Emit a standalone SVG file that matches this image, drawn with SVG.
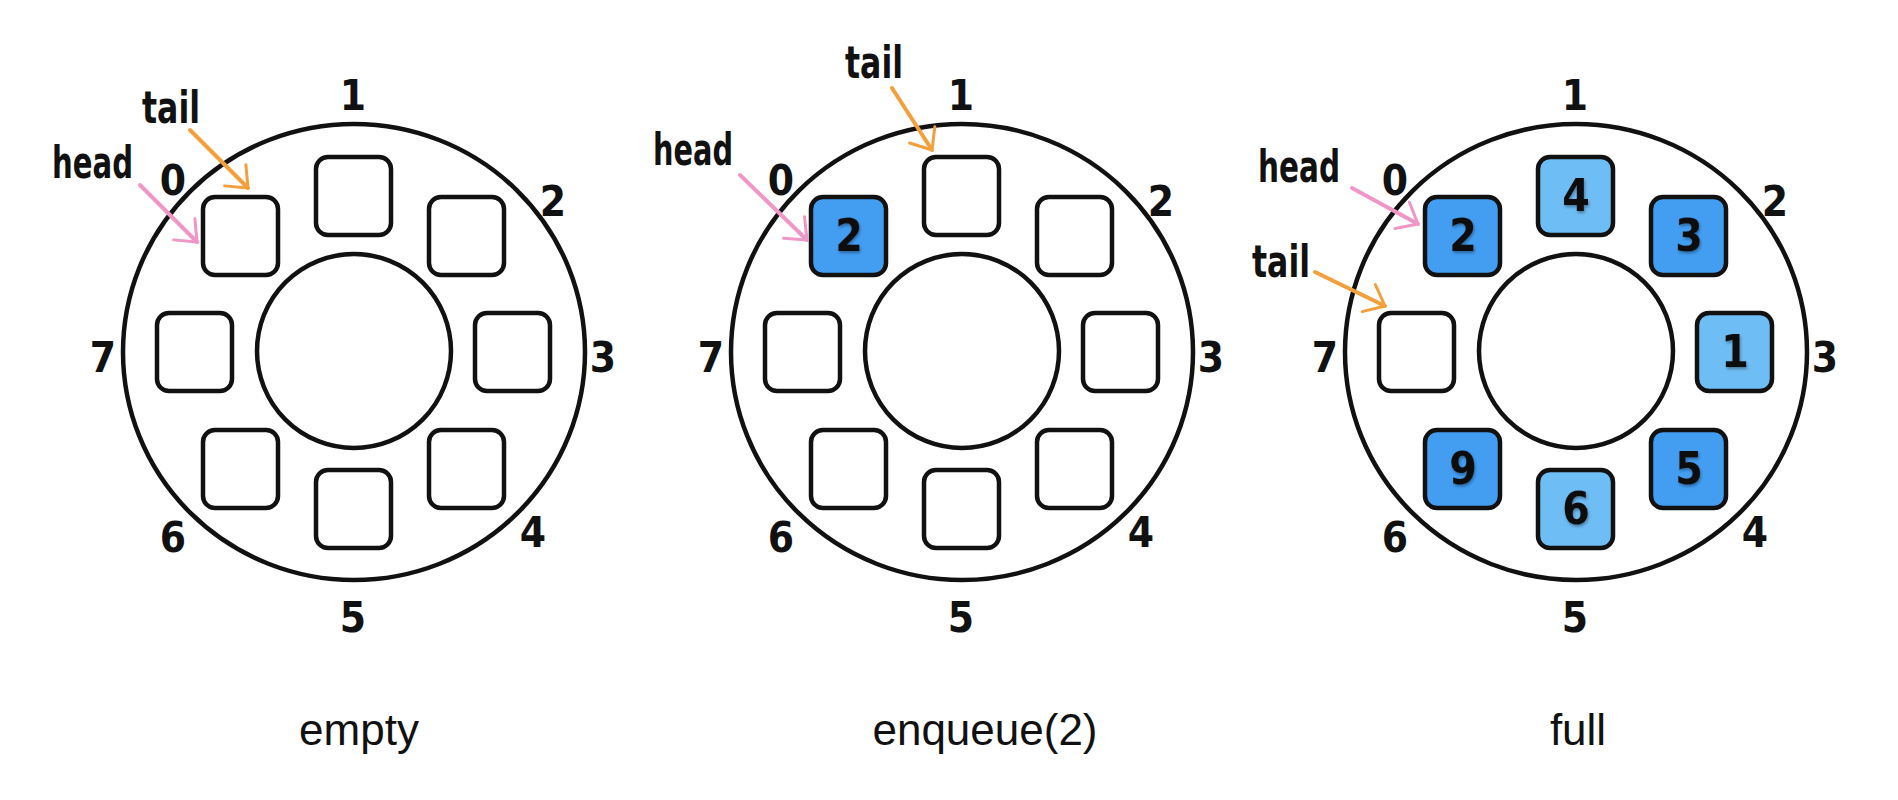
<svg xmlns="http://www.w3.org/2000/svg" width="1898" height="800" viewBox="0 0 1898 800">
<style>
.ring{fill:none;stroke:#111;stroke-width:4.5}
.hub{fill:#fff;stroke:#111;stroke-width:4.5}
.slot{fill:#fff;stroke:#111;stroke-width:4.5}
.dark{fill:#439EF2}
.light{fill:#6FBDF5}
.idx{font-family:"Liberation Sans Narrow","DejaVu Sans Condensed","Liberation Sans",sans-serif;font-weight:bold;font-size:42px;fill:#111;text-anchor:middle}
.val{font-family:"Liberation Sans Narrow","DejaVu Sans Condensed","Liberation Sans",sans-serif;font-weight:bold;font-size:44px;fill:#111;text-anchor:middle;filter:url(#sh)}
.ptr{font-family:"Liberation Sans Narrow","DejaVu Sans Condensed","Liberation Sans",sans-serif;font-weight:bold;font-size:44px;fill:#111}
.cap{font-family:"Liberation Sans","DejaVu Sans",sans-serif;font-size:44px;fill:#111;text-anchor:middle}
.pink{fill:none;stroke:#F097C8;stroke-width:4;stroke-linecap:round;marker-end:url(#mp)}
.orange{fill:none;stroke:#F2A03C;stroke-width:4;stroke-linecap:round;marker-end:url(#mo)}
</style>
<defs>
<filter id="sh" x="-30%" y="-30%" width="160%" height="160%">
<feDropShadow dx="1" dy="2" stdDeviation="1.5" flood-color="#000" flood-opacity="0.35"/>
</filter>
<marker id="mp" markerUnits="userSpaceOnUse" orient="auto" markerWidth="40" markerHeight="40" refX="0" refY="0" viewBox="-25 -20 30 40" overflow="visible">
<path d="M -18 -15 L 0 0 L -18 15" fill="none" stroke="#F097C8" stroke-width="3" stroke-linecap="round" stroke-linejoin="round"/>
</marker>
<marker id="mo" markerUnits="userSpaceOnUse" orient="auto" markerWidth="40" markerHeight="40" refX="0" refY="0" viewBox="-25 -20 30 40" overflow="visible">
<path d="M -18 -15 L 0 0 L -18 15" fill="none" stroke="#F2A03C" stroke-width="3" stroke-linecap="round" stroke-linejoin="round"/>
</marker>
</defs>
<rect width="1898" height="800" fill="#fff"/>

<!-- Panel 1: empty -->
<g id="panel-empty">
<g id="p1-ring"><ellipse class="ring" cx="354" cy="352" rx="231" ry="228"/></g>
<g id="p1-hub"><circle class="hub" cx="354" cy="351" r="97"/></g>
<g id="p1-slot0"><rect class="slot" x="203" y="197" width="75" height="78" rx="12"/></g>
<g id="p1-slot1"><rect class="slot" x="316" y="157" width="75" height="78" rx="12"/></g>
<g id="p1-slot2"><rect class="slot" x="429" y="197" width="75" height="78" rx="12"/></g>
<g id="p1-slot3"><rect class="slot" x="475" y="313" width="75" height="78" rx="12"/></g>
<g id="p1-slot4"><rect class="slot" x="429" y="430" width="75" height="78" rx="12"/></g>
<g id="p1-slot5"><rect class="slot" x="316" y="470" width="75" height="78" rx="12"/></g>
<g id="p1-slot6"><rect class="slot" x="203" y="430" width="75" height="78" rx="12"/></g>
<g id="p1-slot7"><rect class="slot" x="157" y="313" width="75" height="78" rx="12"/></g>
<g id="p1-idx">
<text class="idx" x="173" y="195">0</text><text class="idx" x="353" y="110">1</text>
<text class="idx" x="553" y="216">2</text><text class="idx" x="603" y="372">3</text>
<text class="idx" x="533" y="547">4</text><text class="idx" x="353" y="632">5</text>
<text class="idx" x="173" y="552">6</text><text class="idx" x="103" y="372">7</text>
</g>
<g id="p1-head"><text class="ptr" x="52" y="178" textLength="81" lengthAdjust="spacingAndGlyphs">head</text></g>
<g id="p1-tail"><text class="ptr" x="142" y="123" textLength="58" lengthAdjust="spacingAndGlyphs">tail</text></g>
<g id="p1-caption"><text class="cap" x="359" y="745">empty</text></g>
</g>

<!-- Panel 2: enqueue(2) -->
<g id="panel-enqueue" transform="translate(608,0)">
<g id="p2-ring"><ellipse class="ring" cx="354" cy="352" rx="231" ry="228"/></g>
<g id="p2-hub"><circle class="hub" cx="354" cy="351" r="97"/></g>
<g id="p2-slot0"><rect class="slot dark" x="203" y="197" width="75" height="78" rx="12"/><text class="val" x="241" y="251">2</text></g>
<g id="p2-slot1"><rect class="slot" x="316" y="157" width="75" height="78" rx="12"/></g>
<g id="p2-slot2"><rect class="slot" x="429" y="197" width="75" height="78" rx="12"/></g>
<g id="p2-slot3"><rect class="slot" x="475" y="313" width="75" height="78" rx="12"/></g>
<g id="p2-slot4"><rect class="slot" x="429" y="430" width="75" height="78" rx="12"/></g>
<g id="p2-slot5"><rect class="slot" x="316" y="470" width="75" height="78" rx="12"/></g>
<g id="p2-slot6"><rect class="slot" x="203" y="430" width="75" height="78" rx="12"/></g>
<g id="p2-slot7"><rect class="slot" x="157" y="313" width="75" height="78" rx="12"/></g>
<g id="p2-idx">
<text class="idx" x="173" y="195">0</text><text class="idx" x="353" y="110">1</text>
<text class="idx" x="553" y="216">2</text><text class="idx" x="603" y="372">3</text>
<text class="idx" x="533" y="547">4</text><text class="idx" x="353" y="632">5</text>
<text class="idx" x="173" y="552">6</text><text class="idx" x="103" y="372">7</text>
</g>
</g>
<g id="p2-head"><text class="ptr" x="653" y="165" textLength="80" lengthAdjust="spacingAndGlyphs">head</text></g>
<g id="p2-tail"><text class="ptr" x="845" y="78" textLength="58" lengthAdjust="spacingAndGlyphs">tail</text></g>
<g id="p2-caption"><text class="cap" x="985" y="745">enqueue(2)</text></g>

<!-- Panel 3: full -->
<g id="panel-full" transform="translate(1222,0)">
<g id="p3-ring"><ellipse class="ring" cx="354" cy="352" rx="231" ry="228"/></g>
<g id="p3-hub"><circle class="hub" cx="354" cy="351" r="97"/></g>
<g id="p3-slot0"><rect class="slot dark" x="203" y="197" width="75" height="78" rx="12"/><text class="val" x="241" y="251">2</text></g>
<g id="p3-slot1"><rect class="slot light" x="316" y="157" width="75" height="78" rx="12"/><text class="val" x="354" y="211">4</text></g>
<g id="p3-slot2"><rect class="slot dark" x="429" y="197" width="75" height="78" rx="12"/><text class="val" x="467" y="251">3</text></g>
<g id="p3-slot3"><rect class="slot light" x="475" y="313" width="75" height="78" rx="12"/><text class="val" x="513" y="367">1</text></g>
<g id="p3-slot4"><rect class="slot dark" x="429" y="430" width="75" height="78" rx="12"/><text class="val" x="467" y="484">5</text></g>
<g id="p3-slot5"><rect class="slot light" x="316" y="470" width="75" height="78" rx="12"/><text class="val" x="354" y="524">6</text></g>
<g id="p3-slot6"><rect class="slot dark" x="203" y="430" width="75" height="78" rx="12"/><text class="val" x="241" y="484">9</text></g>
<g id="p3-slot7"><rect class="slot" x="157" y="313" width="75" height="78" rx="12"/></g>
<g id="p3-idx">
<text class="idx" x="173" y="195">0</text><text class="idx" x="353" y="110">1</text>
<text class="idx" x="553" y="216">2</text><text class="idx" x="603" y="372">3</text>
<text class="idx" x="533" y="547">4</text><text class="idx" x="353" y="632">5</text>
<text class="idx" x="173" y="552">6</text><text class="idx" x="103" y="372">7</text>
</g>
</g>
<g id="p3-head"><text class="ptr" x="1258" y="182" textLength="82" lengthAdjust="spacingAndGlyphs">head</text></g>
<g id="p3-tail"><text class="ptr" x="1252" y="277" textLength="58" lengthAdjust="spacingAndGlyphs">tail</text></g>
<g id="p3-caption"><text class="cap" x="1578" y="745">full</text></g>

<!-- Connectors: head / tail pointers -->
<g id="connectors">
<path class="pink" d="M 140 185 L 197 242"/>
<path class="orange" d="M 190 130 L 248 188"/>
<path class="pink" d="M 740 175 L 807 240"/>
<path class="orange" d="M 892 88 L 932 150"/>
<path class="pink" d="M 1352 188 L 1418 224"/>
<path class="orange" d="M 1315 272 L 1385 306"/>
</g>
</svg>
